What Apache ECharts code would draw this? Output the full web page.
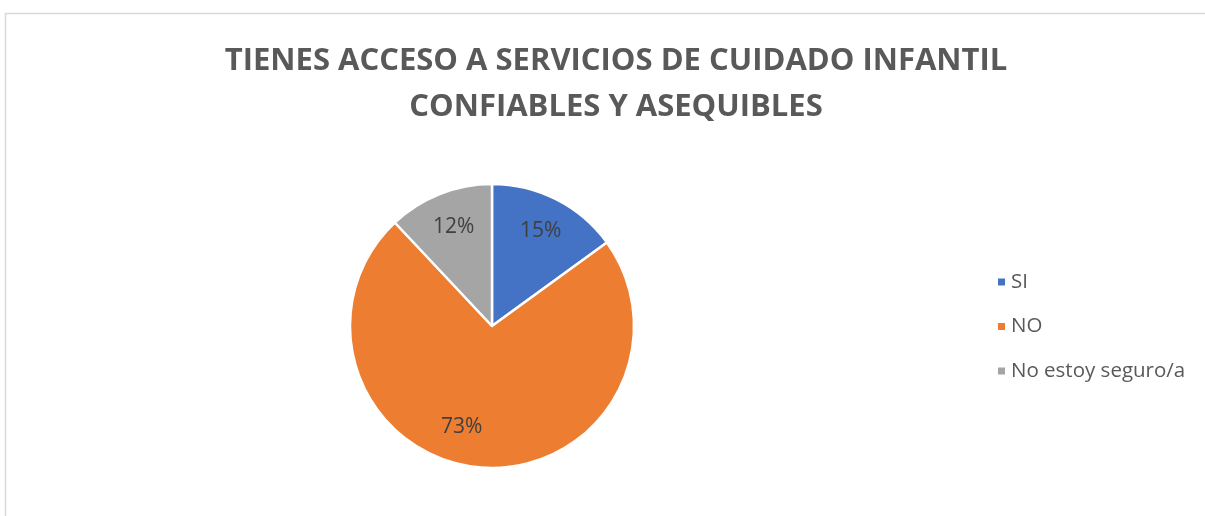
<!DOCTYPE html>
<html>
<head>
<meta charset="utf-8">
<script src="https://cdn.jsdelivr.net/npm/echarts@6/dist/echarts.min.js"></script>
<style>
html,body{margin:0;padding:0;background:#fff;}
#c{width:1205px;height:516px;}
</style>
</head>
<body>
<div id="c"></div>
<script>
const titleLines = ['TIENES ACCESO A SERVICIOS DE CUIDADO INFANTIL', 'CONFIABLES Y ASEQUIBLES'];
const categories = ['SI', 'NO', 'No estoy seguro/a'];
const values = [15, 73, 12];
const colors = ['#4472C4', '#ED7D31', '#A5A5A5'];

const chart = echarts.init(document.getElementById('c'), null, {renderer: 'canvas'});
const FONT = '"Open Sans", "Liberation Sans", sans-serif';

const pieData = categories.map((name, i) => ({name, value: values[i], itemStyle: {color: colors[i]}}));
const labelData = categories.map((name, i) => ({
  name, value: values[i],
  label: i === 1 ? {offset: [-20, -8]} : (i === 0 ? {offset: [-1, 3]} : {offset: [2, 3]})
}));

chart.setOption({
  animation: false,
  title: {
    text: titleLines.join('\n'),
    left: 611, top: 33, textAlign: 'center',
    textStyle: {fontFamily: FONT, fontWeight: 'bold', fontSize: 31, color: '#595959', lineHeight: 46}
  },
  graphic: [{
    type: 'rect', silent: true,
    shape: {x: 5.5, y: 13.5, width: 1210, height: 520},
    style: {fill: 'none', stroke: '#D9D9D9', lineWidth: 1.5}
  }],
  legend: {
    orient: 'vertical', left: 991, top: 266, itemGap: 22.5,
    itemWidth: 9, itemHeight: 9, icon: 'rect',
    data: categories,
    textStyle: {fontFamily: FONT, fontSize: 20.5, color: '#595959', lineHeight: 22}
  },
  series: [{
    type: 'pie', center: [492, 326], radius: ['0%', 142],
    startAngle: 90, clockwise: true,
    data: pieData,
    itemStyle: {borderColor: '#fff', borderWidth: 2.5},
    label: {show: false}, labelLine: {show: false},
    emphasis: {disabled: true}
  }, {
    type: 'pie', center: [492, 326], radius: ['0%', 213],
    startAngle: 90, clockwise: true, silent: true,
    legendHoverLink: false,
    data: labelData,
    itemStyle: {color: 'rgba(0,0,0,0)', borderWidth: 0},
    label: {show: true, position: 'inside', formatter: '{d}%', fontFamily: FONT, fontSize: 21, color: '#404040'},
    labelLine: {show: false},
    emphasis: {disabled: true}
  }]
});
</script>
</body>
</html>
